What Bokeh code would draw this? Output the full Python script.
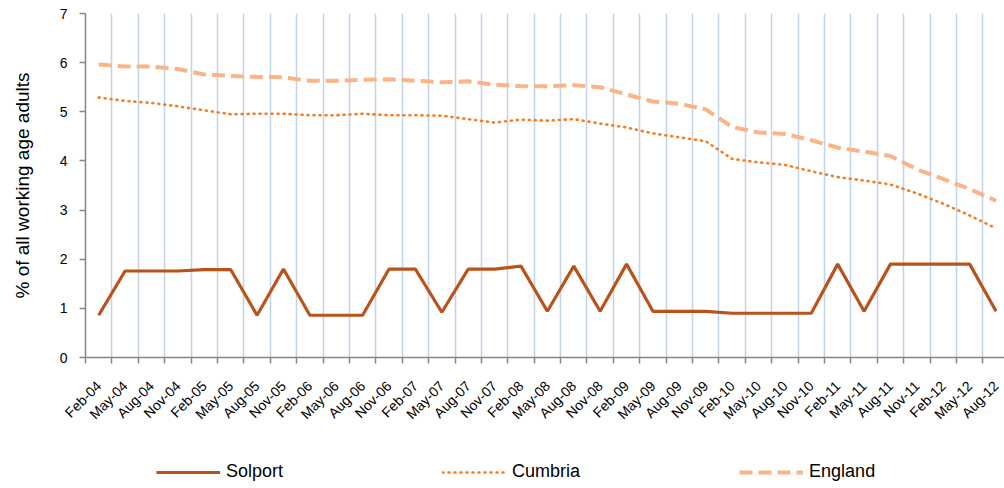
import numpy as np
from bokeh.plotting import figure
from bokeh.layouts import column
from bokeh.models import Range1d, FixedTicker, Legend, LegendItem
from bokeh.embed import file_html
from bokeh.resources import INLINE

categories = ["Feb-04", "May-04", "Aug-04", "Nov-04",
              "Feb-05", "May-05", "Aug-05", "Nov-05",
              "Feb-06", "May-06", "Aug-06", "Nov-06",
              "Feb-07", "May-07", "Aug-07", "Nov-07",
              "Feb-08", "May-08", "Aug-08", "Nov-08",
              "Feb-09", "May-09", "Aug-09", "Nov-09",
              "Feb-10", "May-10", "Aug-10", "Nov-10",
              "Feb-11", "May-11", "Aug-11", "Nov-11",
              "Feb-12", "May-12", "Aug-12"]

solport = [0.86, 1.76, 1.76, 1.76, 1.79, 1.79, 0.86, 1.80,
           0.86, 0.86, 0.86, 1.80, 1.80, 0.92, 1.80, 1.80,
           1.86, 0.94, 1.86, 0.94, 1.90, 0.94, 0.94, 0.94,
           0.90, 0.90, 0.90, 0.90, 1.90, 0.94, 1.90, 1.90,
           1.90, 1.90, 0.94]

cumbria = [5.29, 5.22, 5.18, 5.11, 5.03, 4.95, 4.96, 4.96,
           4.93, 4.93, 4.96, 4.93, 4.93, 4.92, 4.85, 4.78,
           4.84, 4.82, 4.85, 4.76, 4.68, 4.56, 4.48, 4.40,
           4.04, 3.97, 3.92, 3.79, 3.67, 3.60, 3.52, 3.34,
           3.13, 2.89, 2.63]

england = [5.96, 5.92, 5.92, 5.87, 5.76, 5.73, 5.71, 5.70,
           5.63, 5.63, 5.65, 5.66, 5.63, 5.60, 5.62, 5.55,
           5.52, 5.52, 5.54, 5.50, 5.35, 5.21, 5.16, 5.05,
           4.69, 4.58, 4.55, 4.42, 4.27, 4.19, 4.10, 3.83,
           3.63, 3.43, 3.19]

series_names = ["Solport", "Cumbria", "England"]

n = len(categories)
centers = [i + 0.5 for i in range(n)]
boundaries = list(range(n))

FONT = "Liberation Sans"
AXIS_COLOR = "#868686"
styles = [dict(line_color="#b9521b", line_width=3.2),
          dict(line_color="#f57c20", line_width=2.6, line_dash="1 5", line_cap="round"),
          dict(line_color="#fab487", line_width=4, line_dash="13 6")]

p = figure(width=1004, height=436, output_backend="svg", toolbar_location=None,
           x_range=Range1d(0, 34.82), y_range=Range1d(0, 7),
           min_border_left=85, min_border_right=0, min_border_top=13,
           min_border_bottom=79)
p.outline_line_color = None
p.background_fill_color = "white"

for vals, st in zip([solport, cumbria, england], styles):
    p.line(centers, vals, **st)

# x axis
xa = p.xaxis[0]
xa.ticker = FixedTicker(ticks=centers, minor_ticks=boundaries)
xa.major_label_overrides = {c: lab for c, lab in zip(centers, categories)}
xa.major_label_orientation = np.pi / 4
xa.major_tick_out = 0
xa.major_tick_in = 0
xa.minor_tick_out = 6
xa.minor_tick_in = 0
xa.minor_tick_line_color = AXIS_COLOR
xa.minor_tick_line_width = 1.5
xa.axis_line_color = AXIS_COLOR
xa.axis_line_width = 1.5
xa.major_label_text_font = FONT
xa.major_label_text_font_size = "14px"
xa.major_label_text_color = "#000000"
xa.major_label_standoff = 20

# y axis
ya = p.yaxis[0]
ya.ticker = FixedTicker(ticks=[0, 1, 2, 3, 4, 5, 6, 7])
ya.minor_tick_line_color = None
ya.major_tick_out = 6
ya.major_tick_in = 0
ya.major_tick_line_color = AXIS_COLOR
ya.major_tick_line_width = 1.5
ya.axis_line_color = AXIS_COLOR
ya.axis_line_width = 1.5
ya.major_label_text_font = FONT
ya.major_label_text_font_size = "14px"
ya.major_label_text_color = "#000000"
ya.major_label_standoff = 12
ya.axis_label = "% of all working age adults"
ya.axis_label_text_font = FONT
ya.axis_label_text_font_size = "19px"
ya.axis_label_text_font_style = "normal"
ya.axis_label_text_color = "#000000"
ya.axis_label_standoff = 24

p.ygrid.grid_line_color = None
p.xgrid.ticker = FixedTicker(ticks=boundaries[1:])
p.xgrid.grid_line_color = "#c0d3e9"
p.xgrid.grid_line_width = 1.5

# legend strip
lg = figure(width=1004, height=50, output_backend="svg", toolbar_location=None,
            x_range=Range1d(0, 1), y_range=Range1d(0, 1),
            x_axis_location=None, y_axis_location=None,
            min_border_left=0, min_border_right=0, min_border_top=0,
            min_border_bottom=0)
lg.outline_line_color = None
lg.grid.visible = False
items = []
for name, st in zip(series_names, styles):
    r = lg.line(x=[-3, -2], y=[-3, -3], **st)
    items.append(LegendItem(label=name, renderers=[r]))
legend = Legend(items=items, orientation="horizontal", location=(71, 4),
                glyph_width=64, glyph_height=18, label_standoff=6,
                spacing=159, label_text_font=FONT,
                label_text_font_size="18px", label_text_color="#000000",
                border_line_color=None, background_fill_alpha=0,
                margin=0, padding=0)
lg.add_layout(legend, "center")

layout = column(p, lg, spacing=0)
open("out.html", "w").write(file_html(layout, INLINE))
